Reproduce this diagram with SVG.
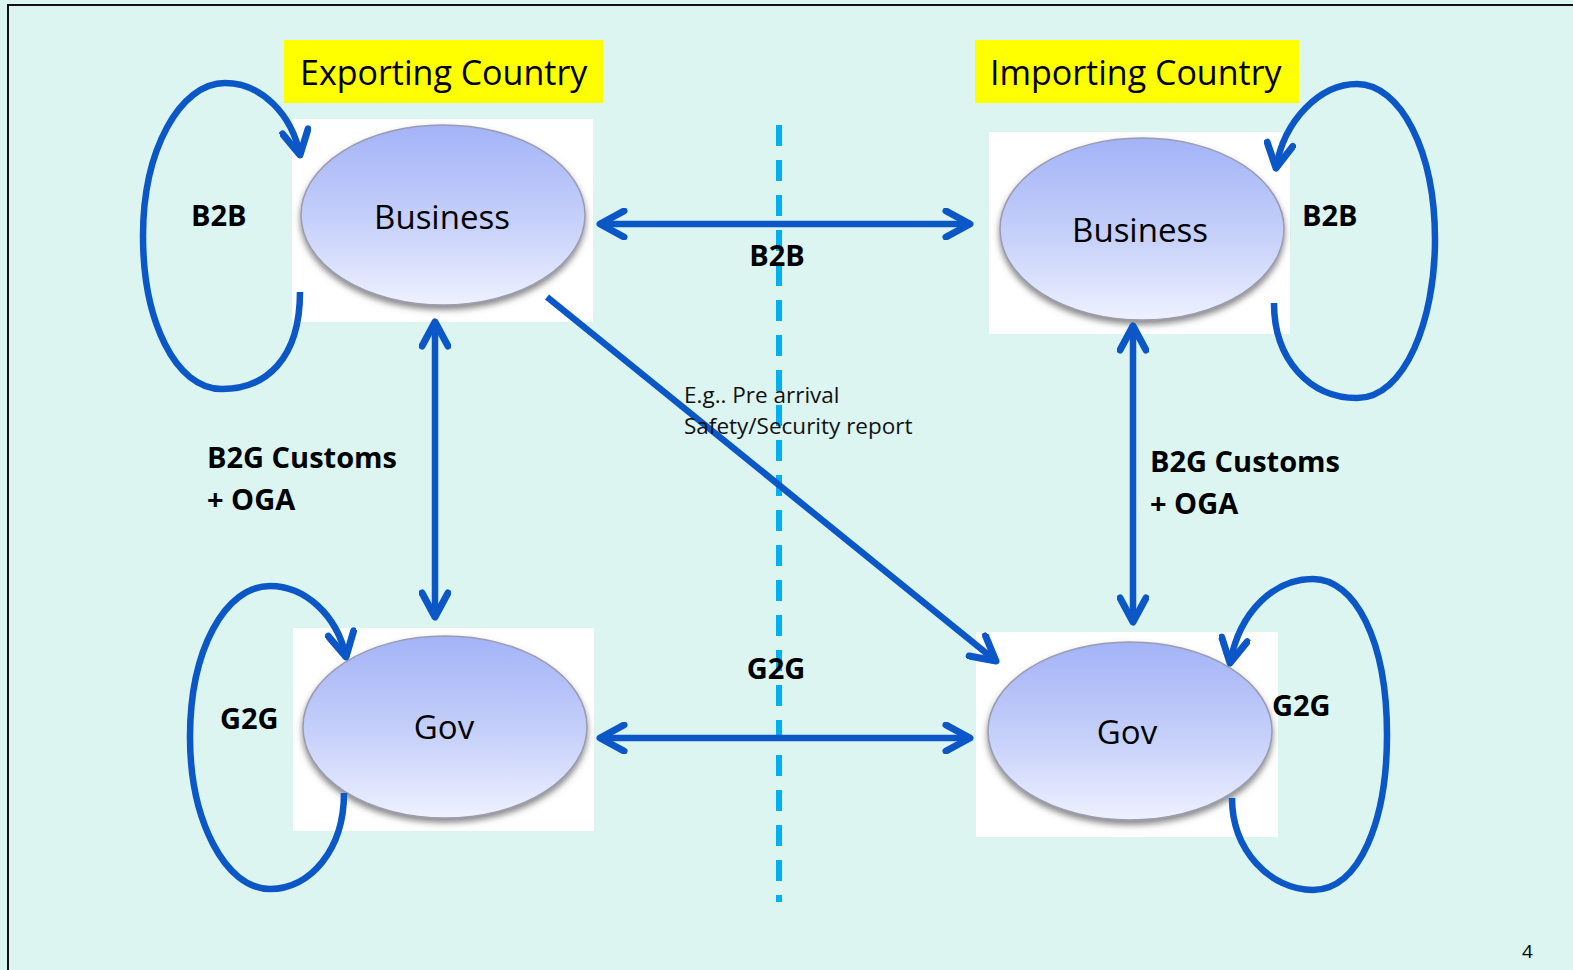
<svg xmlns="http://www.w3.org/2000/svg" width="1573" height="970" viewBox="0 0 1573 970">
<defs>
<style>
.bg{fill:#DCF5F1}
.box{fill:#FFFFFF}
.ell{fill:url(#eg);stroke:#9A9CB0;stroke-width:1.5;filter:url(#sh)}
.nt{font-family:"Open Sans","Liberation Sans",sans-serif;font-size:33px;fill:#000;text-anchor:middle}
.hd{font-family:"Open Sans","Liberation Sans",sans-serif;font-size:34px;fill:#000}
.lb{font-family:"Open Sans","Liberation Sans",sans-serif;font-size:29px;font-weight:bold;fill:#000}
.sm{font-family:"Open Sans","Liberation Sans",sans-serif;font-size:22.5px;fill:#111}
.c{fill:none;stroke:#0B57C8;stroke-width:6.5}
</style>
<linearGradient id="eg" x1="0" y1="0" x2="0" y2="1">
<stop offset="0" stop-color="#A3B3F7"/>
<stop offset="0.55" stop-color="#C7D1FA"/>
<stop offset="1" stop-color="#EEF1FF"/>
</linearGradient>
<filter id="sh" x="-10%" y="-10%" width="120%" height="130%">
<feDropShadow dx="0" dy="4" stdDeviation="3" flood-color="#555" flood-opacity="0.7"/>
</filter>
<marker id="ah" markerUnits="userSpaceOnUse" viewBox="-30 -16 34 32" refX="0" refY="0" markerWidth="34" markerHeight="32" orient="auto-start-reverse">
<path d="M-24,-13 L0,0 L-24,13" fill="none" stroke="#0B57C8" stroke-width="7" stroke-linejoin="round" stroke-linecap="round"/>
</marker>
</defs>
<rect class="bg" x="0" y="0" width="1573" height="970"/>
<path d="M8,970 L8,5 L1573,5" fill="none" stroke="#111" stroke-width="2"/>

<g id="hdr-export">
<rect x="284" y="40" width="319" height="63" fill="#FFFF00"/>
<text class="hd" x="300" y="85">Exporting Country</text>
</g>
<g id="hdr-import">
<rect x="975" y="40" width="324" height="63" fill="#FFFF00"/>
<text class="hd" x="990" y="85">Importing Country</text>
</g>

<g id="exp-business">
<rect class="box" x="292" y="119" width="301" height="203"/>
<ellipse class="ell" cx="443" cy="215" rx="142" ry="90"/>
<text class="nt" x="442" y="229">Business</text>
</g>
<g id="imp-business">
<rect class="box" x="989" y="132" width="301" height="202"/>
<ellipse class="ell" cx="1142" cy="229" rx="142" ry="91"/>
<text class="nt" x="1140" y="242">Business</text>
</g>
<g id="exp-gov">
<rect class="box" x="293" y="628" width="301" height="203"/>
<ellipse class="ell" cx="445" cy="727" rx="142" ry="91"/>
<text class="nt" x="444" y="739">Gov</text>
</g>
<g id="imp-gov">
<rect class="box" x="976" y="632" width="302" height="205"/>
<ellipse class="ell" cx="1130" cy="731" rx="142" ry="89"/>
<text class="nt" x="1127" y="744">Gov</text>
</g>

<g id="divider">
<line x1="779" y1="125" x2="779" y2="902" stroke="#00B0F0" stroke-width="6" stroke-dasharray="21 14"/>
</g>

<g id="connectors">
<line class="c" x1="600" y1="224" x2="970" y2="224" marker-start="url(#ah)" marker-end="url(#ah)"/>
<line class="c" x1="600" y1="738" x2="970" y2="738" marker-start="url(#ah)" marker-end="url(#ah)"/>
<line class="c" x1="435" y1="322" x2="435" y2="617" marker-start="url(#ah)" marker-end="url(#ah)"/>
<line class="c" x1="1133" y1="326" x2="1133" y2="622" marker-start="url(#ah)" marker-end="url(#ah)"/>
<line class="c" x1="547" y1="297" x2="996" y2="661" marker-end="url(#ah)"/>
<path class="c" d="M300,292 C300,360 265,389 222,389 C175,389 143,320 143,236 C143,150 180,83 225,83 C262,83 292,115 300,155" marker-end="url(#ah)"/>
<path class="c" d="M1274,303 C1274,360 1310,398 1357,398 C1405,398 1435,320 1435,240 C1435,150 1400,84 1357,84 C1320,84 1284,120 1276,168" marker-end="url(#ah)"/>
<path class="c" d="M344,793 C344,850 310,889 270,889 C225,889 190,820 190,737 C190,650 225,586 270,586 C305,586 337,615 346,657" marker-end="url(#ah)"/>
<path class="c" d="M1232,798 C1232,850 1270,890 1313,890 C1360,890 1387,820 1387,735 C1387,640 1355,579 1313,579 C1275,579 1240,610 1230,663" marker-end="url(#ah)"/>
</g>

<g id="labels">
<text class="lb" x="777" y="266" text-anchor="middle">B2B</text>
<text class="lb" x="776" y="679" text-anchor="middle">G2G</text>
<text class="lb" x="191" y="226">B2B</text>
<text class="lb" x="1302" y="226">B2B</text>
<text class="lb" x="220" y="729">G2G</text>
<text class="lb" x="1272" y="716">G2G</text>
<text class="lb" x="207" y="468">B2G Customs</text>
<text class="lb" x="207" y="510">+ OGA</text>
<text class="lb" x="1150" y="472">B2G Customs</text>
<text class="lb" x="1150" y="514">+ OGA</text>
<text class="sm" x="684" y="403">E.g.. Pre arrival</text>
<text class="sm" x="684" y="434">Safety/Security report</text>
<text x="1522" y="958" font-family="Open Sans, Liberation Sans, sans-serif" font-size="19" fill="#000">4</text>
</g>
</svg>
